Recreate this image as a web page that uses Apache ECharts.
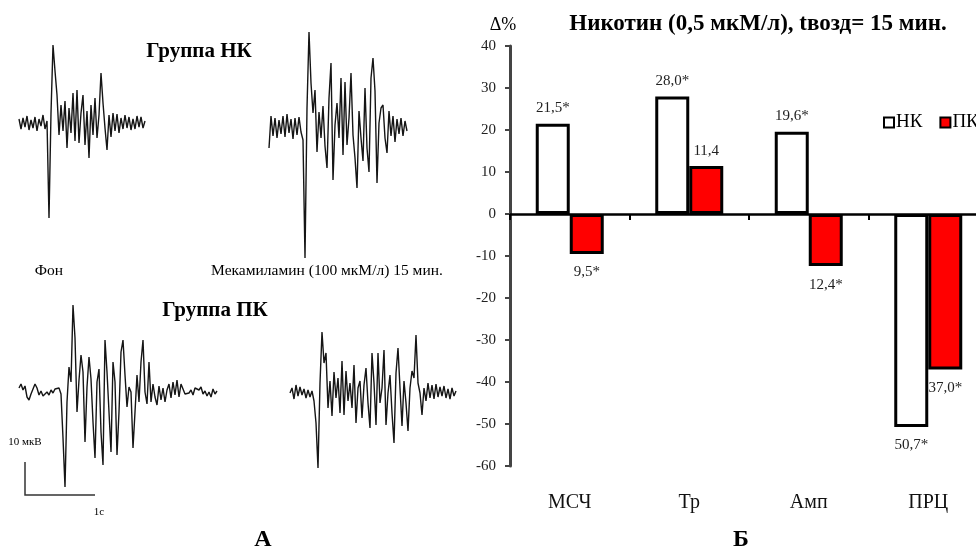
<!DOCTYPE html>
<html>
<head>
<meta charset="utf-8">
<script src="https://cdn.jsdelivr.net/npm/echarts@6/dist/echarts.min.js"></script>
<style>
html,body{margin:0;padding:0;background:#fff}
#chart{width:976px;height:551px}
</style>
</head>
<body>
<div id="chart"></div>
<script>
// --- bar chart data (Δ%) ---
let categories = ['МСЧ', 'Тр', 'Амп', 'ПРЦ'];
let nkValues = [21.5, 28.0, 19.6, -50.7];
let pkValues = [-9.5, 11.4, -12.4, -37.0];
let nkSig = [true, true, true, true];
let pkSig = [true, false, true, true];
let yTicks = [-60, 40, 10]; // min, max, step

// --- traces (amplitude, arbitrary units, one sample per step) ---
let fonNK = [4,-6,5,-4,7,-7,3,-5,6,-8,4,-3,8,-6,2,-95,10,78,52,28,-12,18,-8,22,-25,15,-10,30,-18,33,-20,10,28,-22,12,-35,18,-12,25,-15,8,50,20,-5,-27,8,-14,10,-8,9,-10,5,-6,8,-5,6,-7,4,-6,7,-4,6,-5,2];
let mekNK = [-20,12,-8,10,-10,8,-6,12,-9,14,-5,9,-11,10,-7,11,-4,-12,-130,20,96,45,15,38,-24,16,-10,22,-18,-40,30,65,-52,3,25,-10,50,-27,46,-17,10,55,-7,-30,-60,17,-10,-33,40,-20,-44,50,70,37,-55,5,20,23,-10,-25,17,-8,12,-14,9,-6,10,-8,7,-3];
let fonPK = [4,8,2,6,-5,-8,-2,3,8,4,-3,1,-4,-2,0,-3,2,-1,3,1,4,-2,-46,-95,-10,25,10,87,54,-20,12,37,20,-50,5,35,13,-30,-66,10,23,-40,-73,52,20,-20,-60,30,10,-63,-20,40,52,17,-15,5,0,-56,-20,17,-10,30,52,0,-12,30,-10,8,-5,-13,6,-8,4,-10,2,8,-6,10,-3,12,-5,8,3,-2,-4,-1,2,-3,4,6,2,5,-2,1,-4,0,-5,3,-2,1];
let mekPK = [0,5,-6,8,-3,6,-2,4,-5,3,-4,2,-8,-30,-75,10,61,30,40,-15,12,-23,21,-5,15,-20,32,-22,22,-8,10,-15,28,-30,5,12,-25,8,25,-10,-35,40,10,-32,40,-10,5,43,-32,0,18,-20,-50,20,45,5,-33,12,-10,-38,5,22,15,58,10,0,-22,5,-8,10,-5,8,-6,9,-4,6,-3,7,-5,4,-6,5,-3,2];

const SERIF = '"Liberation Serif", "Times New Roman", serif';
const chart = echarts.init(document.getElementById('chart'));

function fmt(v, sig){
    return Math.abs(v).toFixed(1).replace('.', ',') + (sig ? '*' : '');
}

function barData(values){
    return values.map(function(v){
        return {
            value: v,
            label: {position: v >= 0 ? 'top' : 'bottom', distance: v >= 0 ? 8 : 11}
        };
    });
}

// trace grid: 2px per sample, 1px per unit
function traceGrid(left, baseline, n, up, down){
    return {left: left, top: baseline - up, width: 2 * (n - 1), height: up + down, outerBoundsMode: 'none'};
}

const traces = [
    {data: fonNK, left: 19, base: 123, up: 100, down: 100},
    {data: mekNK, left: 269, base: 128, up: 100, down: 135},
    {data: fonPK, left: 19, base: 392, up: 95, down: 100},
    {data: mekPK, left: 290, base: 393, up: 70, down: 80}
];

let grids = [{left: 510, top: 46, width: 478, height: 420, outerBoundsMode: 'none'}];
let xAxes = [
    {type: 'category', gridIndex: 0, data: categories, position: 'bottom',
        axisLine: {show: false, onZero: false}, axisTick: {show: false},
        axisLabel: {margin: 27, fontFamily: SERIF, fontSize: 20, color: '#111'}},
    {type: 'category', gridIndex: 0, data: categories, position: 'bottom',
        axisLine: {show: true, onZero: true, lineStyle: {color: '#000', width: 2.5}},
        axisTick: {show: true, length: 6, lineStyle: {color: '#000', width: 2}},
        axisLabel: {show: false}}
];
let yAxes = [
    {type: 'value', gridIndex: 0, min: yTicks[0], max: yTicks[1], interval: yTicks[2],
        splitLine: {show: false},
        axisLine: {show: true, lineStyle: {color: '#444', width: 3}},
        axisTick: {show: true, length: 5, lineStyle: {color: '#444', width: 2}},
        axisLabel: {margin: 14, fontFamily: SERIF, fontSize: 15, color: '#222'}}
];
let series = [
    {name: 'НК', type: 'bar', xAxisIndex: 0, yAxisIndex: 0, data: barData(nkValues),
        barWidth: 34, barGap: '0%',
        itemStyle: {color: '#fff', borderColor: '#000', borderWidth: 3},
        label: {show: true, fontFamily: SERIF, fontSize: 15, color: '#222',
            formatter: function(p){ return fmt(p.value, nkSig[p.dataIndex]); }}},
    {name: 'ПК', type: 'bar', xAxisIndex: 0, yAxisIndex: 0, data: barData(pkValues),
        barWidth: 34, barGap: '0%',
        itemStyle: {color: '#ff0000', borderColor: '#000', borderWidth: 3},
        label: {show: true, fontFamily: SERIF, fontSize: 15, color: '#222',
            formatter: function(p){ return fmt(p.value, pkSig[p.dataIndex]); }}}
];

traces.forEach(function(t, k){
    grids.push(traceGrid(t.left, t.base, t.data.length, t.up, t.down));
    xAxes.push({type: 'value', gridIndex: k + 1, min: 0, max: t.data.length - 1, show: false});
    yAxes.push({type: 'value', gridIndex: k + 1, min: -t.down, max: t.up, show: false});
    series.push({
        type: 'line', xAxisIndex: k + 2, yAxisIndex: k + 1,
        data: t.data.map(function(v, i){ return [i, v]; }),
        showSymbol: false, silent: true,
        lineStyle: {color: '#151515', width: 1.4}
    });
});

function txt(x, y, text, size, bold, align){
    return {type: 'text', x: x, y: y, silent: true,
        style: {text: text, fill: '#000', textAlign: align || 'center', textVerticalAlign: 'middle',
            font: (bold ? 'bold ' : '') + size + 'px ' + SERIF}};
}

chart.setOption({
    animation: false,
    backgroundColor: '#fff',
    grid: grids,
    xAxis: xAxes,
    yAxis: yAxes,
    series: series,
    legend: {
        data: ['НК', 'ПК'], left: 883, top: 113, width: 300, orient: 'horizontal',
        padding: 0, icon: 'rect',
        itemWidth: 10, itemHeight: 10, itemGap: 17,
        textStyle: {fontFamily: SERIF, fontSize: 19, color: '#000', padding: [0, 0, 0, -3]}
    },
    graphic: [
        txt(199, 52, 'Группа НК', 21, true),
        txt(49, 271, 'Фон', 15.5),
        txt(327, 271, 'Мекамиламин (100 мкМ/л) 15 мин.', 15.5),
        txt(215, 311, 'Группа ПК', 21, true),
        txt(25, 442, '10 мкВ', 11),
        txt(99, 512, '1с', 11),
        txt(263, 540, 'А', 24, true),
        txt(741, 540, 'Б', 24, true),
        txt(503, 25, 'Δ%', 18),
        txt(758, 24, 'Никотин (0,5 мкМ/л), tвозд= 15 мин.', 23, true),
        {type: 'polyline', silent: true,
            shape: {points: [[25, 462], [25, 495], [95, 495]]},
            style: {stroke: '#333', lineWidth: 1.5, fill: null}}
    ]
});
</script>
</body>
</html>
